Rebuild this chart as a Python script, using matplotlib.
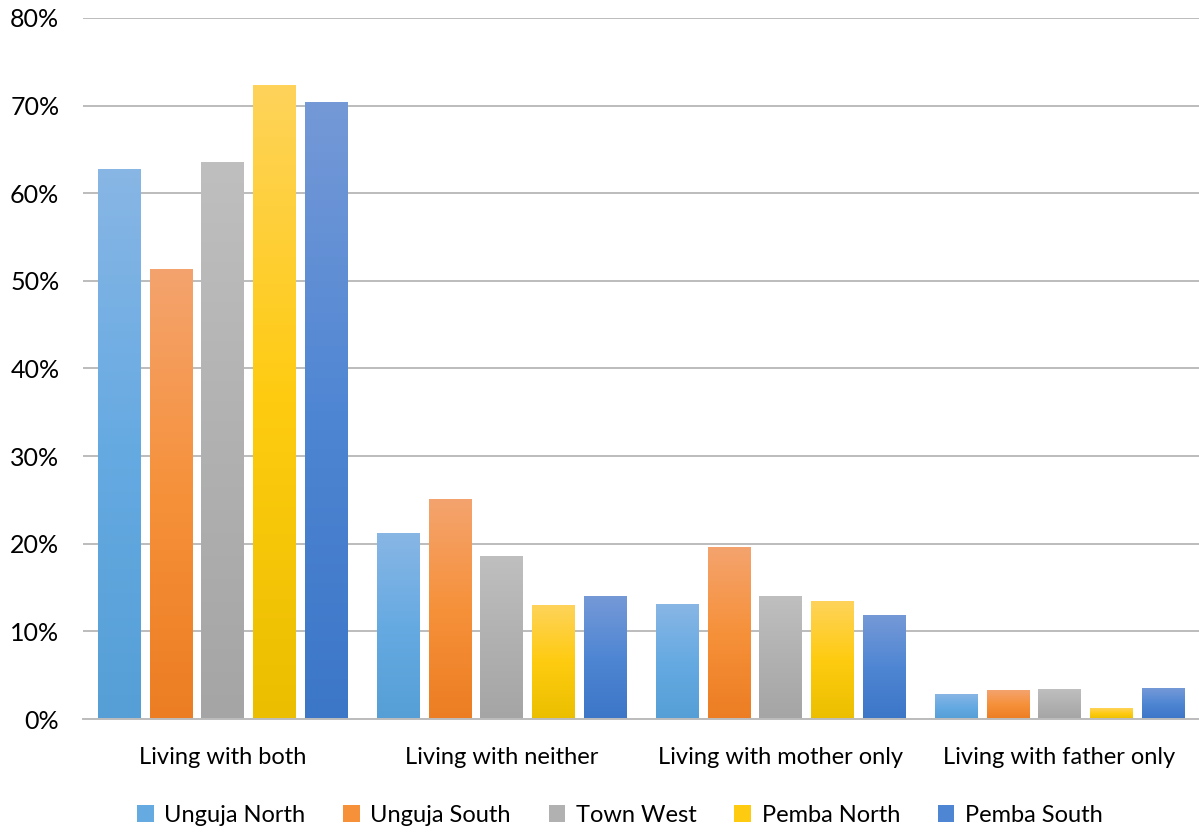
"""
Living arrangements of children by region - grouped bar chart
"""
import numpy as np
import matplotlib
matplotlib.use("Agg")
from matplotlib import pyplot
from matplotlib.colors import LinearSegmentedColormap
from matplotlib.patches import Patch
from matplotlib.ticker import MultipleLocator, FuncFormatter

categories = ["Living with both", "Living with neither",
              "Living with mother only", "Living with father only"]
regions = ["Unguja North", "Unguja South", "Town West", "Pemba North", "Pemba South"]

unguja_north = [62.7, 21.2, 13.1, 2.85]
unguja_south = [51.3, 25.0, 19.6, 3.2]
town_west = [63.5, 18.6, 14.0, 3.4]
pemba_north = [72.3, 12.9, 13.4, 1.25]
pemba_south = [70.4, 14.0, 11.8, 3.5]
series = [unguja_north, unguja_south, town_west, pemba_north, pemba_south]

# top / middle / bottom colours of each bar gradient
gradients = [
    ("#88b6e5", "#66aae2", "#559fd6"),
    ("#f4a36e", "#f6913a", "#ec7d22"),
    ("#bfbfbf", "#b1b1b1", "#a5a5a5"),
    ("#ffd35a", "#fecb10", "#ebbf00"),
    ("#7599d7", "#4f86d3", "#3c76c7"),
]

pyplot.rcParams["font.family"] = ["Lato", "DejaVu Sans"]

fig = pyplot.figure(figsize=(11.99, 8.32), dpi=100)
ax = fig.add_axes([0.0692, 0.1358, 0.9308, 0.8426])

x = np.arange(len(categories))
step = 0.185
width = 0.151
grad = np.linspace(0, 1, 256).reshape(-1, 1)

for idx, (name, vals, cols) in enumerate(zip(regions, series, gradients)):
    offs = (idx - 2) * step
    bars = ax.bar(x + offs, vals, width, facecolor="none", edgecolor="none", zorder=3)
    cmap = LinearSegmentedColormap.from_list(name, [cols[2], cols[1], cols[0]])
    for bar in bars:
        x0, y0 = bar.get_x(), bar.get_y()
        ax.imshow(grad, cmap=cmap, origin="lower", aspect="auto", zorder=3,
                  extent=(x0, x0 + bar.get_width(), y0, y0 + bar.get_height()),
                  interpolation="bilinear")

ax.set_xlim(-0.5, len(categories) - 0.5)
ax.set_ylim(0, 80)
ax.yaxis.set_major_locator(MultipleLocator(10))
ax.yaxis.set_major_formatter(FuncFormatter(lambda v, _: f"{v:.0f}%"))
ax.set_xticks(x)
ax.set_xticklabels(categories)
ax.tick_params(axis="both", length=0, colors="#000000")
ax.tick_params(axis="x", pad=20, labelsize=17)
ax.tick_params(axis="y", pad=17, labelsize=18)
ax.grid(axis="y", color="#bcbcbc", linewidth=1.4, zorder=0)
for side in ["top", "right", "left"]:
    ax.spines[side].set_visible(False)
ax.spines["bottom"].set_color("#bcbcbc")
ax.spines["bottom"].set_linewidth(1.4)
ax.spines["bottom"].set_zorder(4)

handles = [Patch(facecolor=cols[1], edgecolor="none") for cols in gradients]
fig.legend(handles, regions, loc="center", bbox_to_anchor=(0.517, 0.02),
           ncol=5, frameon=False, fontsize=17, handlelength=0.7,
           handleheight=0.7, handletextpad=0.45, columnspacing=1.6)

fig.savefig("out.png", dpi=100)
pyplot.close(fig)
